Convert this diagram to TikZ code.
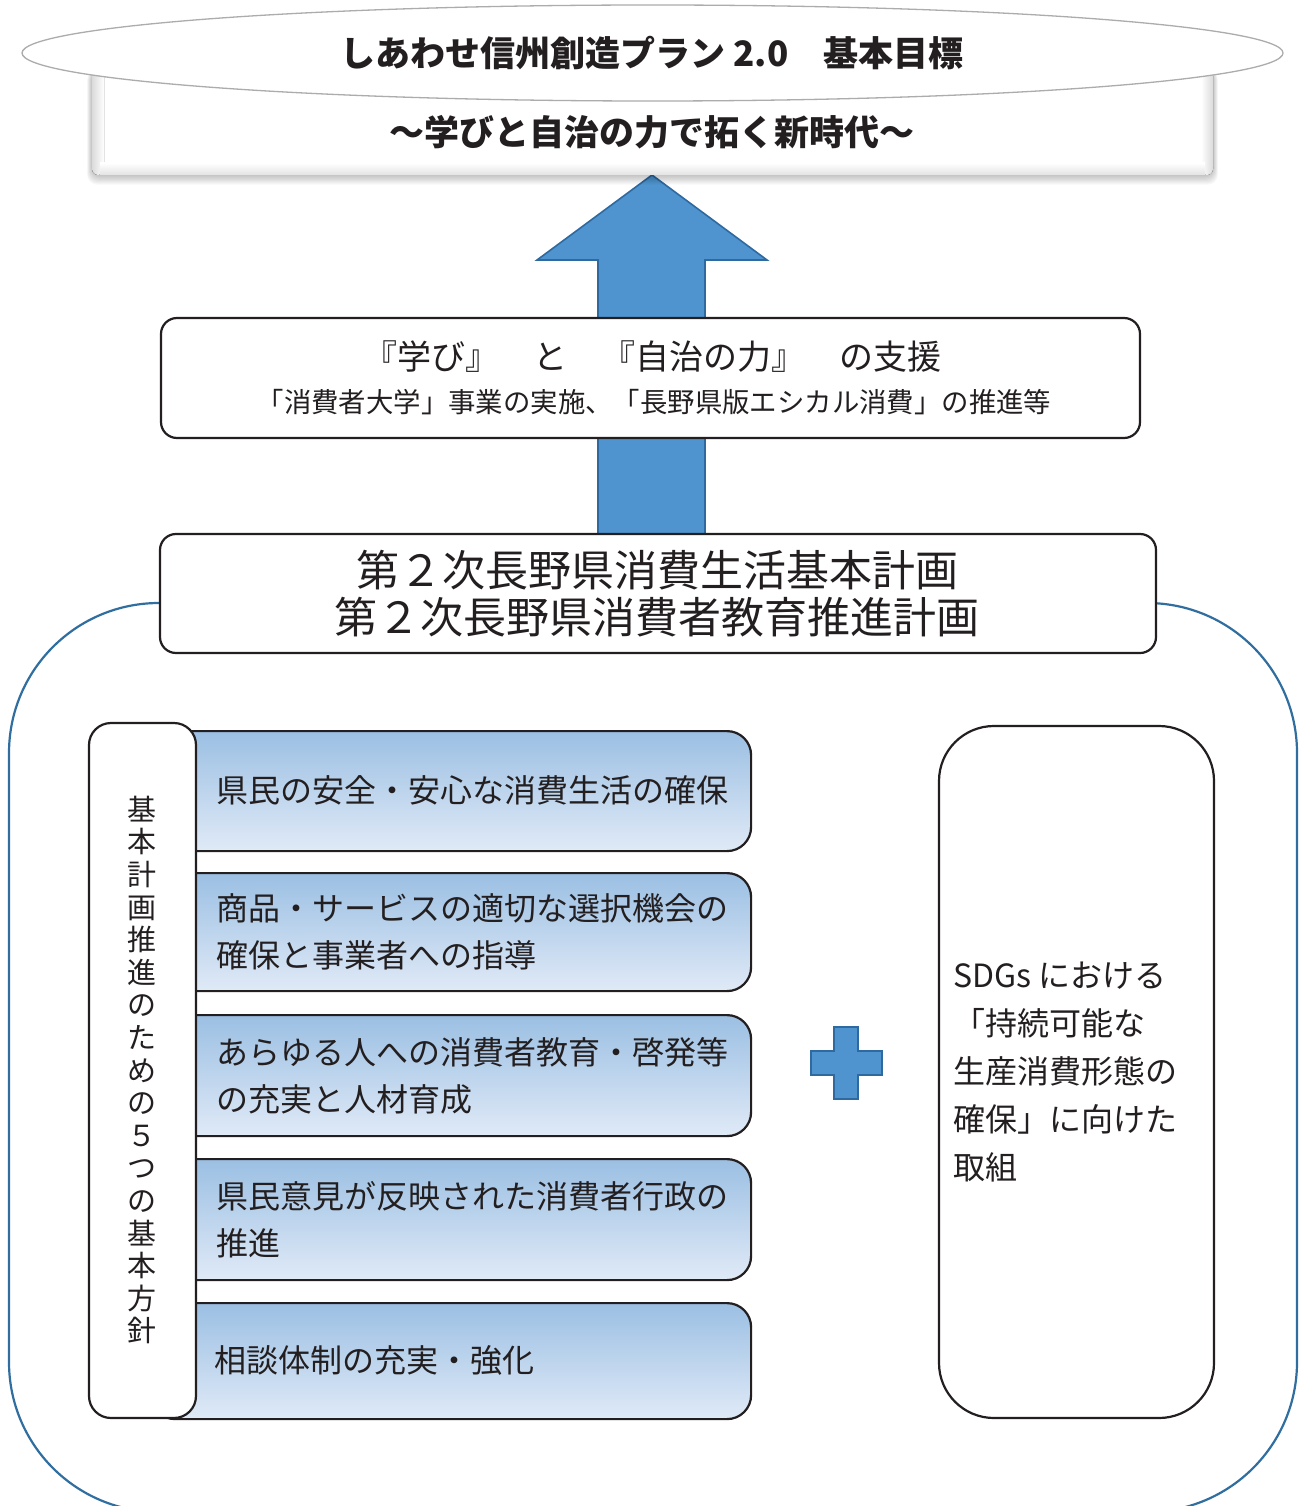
\documentclass[tikz,border=0pt]{standalone}
\usepackage{fontspec}
\setmainfont{Noto Sans CJK JP}
\usetikzlibrary{shapes.geometric}
\definecolor{arrowblue}{RGB}{79,148,207}
\definecolor{arrowedge}{RGB}{46,105,160}
\definecolor{frameblue}{RGB}{48,110,160}
\definecolor{boxtop}{RGB}{155,191,227}
\definecolor{boxbot}{RGB}{224,234,247}
\definecolor{ink}{RGB}{35,31,32}
\begin{document}
\begin{tikzpicture}[x=1pt,y=-1pt,
  wbox/.style={draw=ink, line width=2.2pt, fill=white, rounded corners=16pt, inner sep=0pt},
  bluebox/.style={draw=ink, line width=2.2pt, top color=boxtop, bottom color=boxbot, rounded corners=24pt, inner sep=0pt, anchor=north west, minimum width=600pt},
  ptxt/.style={text=ink, anchor=west, align=left, inner sep=0pt, font=\fontsize{32}{47}\selectfont},
  bluefill/.style={fill=arrowblue, draw=arrowedge, line width=1.6pt, line join=miter}
]
\useasboundingbox (0,0) rectangle (1302,1506);

% outer frame
\begin{scope}
\clip (0,0) rectangle (1302,1506);
\node[draw=frameblue, line width=2.2pt, rounded corners=150pt, minimum width=1288pt, minimum height=909pt, inner sep=0pt] (frame) at (653,1057.5) {};
\end{scope}

% big arrow
\draw[bluefill] (652,175) -- (767,260) -- (705,260) -- (705,540) -- (598,540) -- (598,260) -- (537,260) -- cycle;

% goal rectangle with soft shadow
\foreach \s in {1,2,...,8}
  \fill[black, opacity=0.03, rounded corners=10pt] (92-\s*0.6,70) rectangle (1213+\s*0.6,175+\s*1.2);
\node[fill=white, rounded corners=8pt, minimum width=1121pt, minimum height=105pt, inner sep=0pt] (goal) at (652.5,122.5) {};
\fill[left color=gray!28, right color=white, rounded corners=6pt] (92,70) rectangle (104,175);
\fill[right color=gray!28, left color=white, rounded corners=6pt] (1201,70) rectangle (1213,175);
\fill[top color=white, bottom color=gray!22] (100,163) rectangle (1205,175);
\node[text=ink, font=\fontsize{35}{38}\selectfont\bfseries] (subtitle) at (652,132) {～学びと自治の力で拓く新時代～};

% ellipse
\node[ellipse, draw=gray!65, line width=1.3pt, fill=white, minimum width=1261pt, minimum height=96pt, inner sep=0pt] (ell) at (652.5,53) {};
\node[text=ink, font=\fontsize{35}{38}\selectfont\bfseries] (title) at (652,53) {しあわせ信州創造プラン 2.0　基本目標};

% support box
\node[wbox, minimum width=979pt, minimum height=120pt] (supp) at (650.5,378) {};
\node[text=ink, inner sep=0pt, font=\fontsize{34}{38}\selectfont] (supp1) at (652,357) {『学び』　と　『自治の力』　の支援};
\node[text=ink, inner sep=0pt, font=\fontsize{27.4}{30}\selectfont] (supp2) at (654,402) {「消費者大学」事業の実施、「長野県版エシカル消費」の推進等};

% plan box
\node[wbox, minimum width=996pt, minimum height=119pt] (plan) at (658,593.5) {};
\node[text=ink, inner sep=0pt, align=center, font=\fontsize{43}{47}\selectfont] (plantxt) at (657,593.5) {第２次長野県消費生活基本計画\\第２次長野県消費者教育推進計画};

% five policy boxes
\node[bluebox, minimum height=120pt] (p1) at (150,730) {};
\node[bluebox, minimum height=118pt] (p2) at (150,872) {};
\node[bluebox, minimum height=121pt] (p3) at (150,1014) {};
\node[bluebox, minimum height=121pt] (p4) at (150,1158) {};
\node[bluebox, minimum height=116pt] (p5) at (150,1302) {};
\node[ptxt] (t1) at (216,790) {県民の安全・安心な消費生活の確保};
\node[ptxt] (t2) at (216,931.5) {商品・サービスの適切な選択機会の\\確保と事業者への指導};
\node[ptxt] (t3) at (216,1075.5) {あらゆる人への消費者教育・啓発等\\の充実と人材育成};
\node[ptxt] (t4) at (216,1219.5) {県民意見が反映された消費者行政の\\推進};
\node[ptxt] (t5) at (214,1360) {相談体制の充実・強化};

% vertical box
\node[draw=ink, line width=2.2pt, fill=white, rounded corners=22pt, minimum width=107pt, minimum height=695pt, inner sep=0pt] (vbox) at (142.5,1070.5) {};
\node[text=ink, inner sep=0pt, align=center, font=\fontsize{29}{32.6}\selectfont] (vtxt) at (142,1070) {基\\本\\計\\画\\推\\進\\の\\た\\め\\の\\５\\つ\\の\\基\\本\\方\\針};

% plus sign
\draw[bluefill, line width=2pt] (834,1027) -- (858,1027) -- (858,1051) -- (882,1051) -- (882,1075) -- (858,1075) -- (858,1099) -- (834,1099) -- (834,1075) -- (811,1075) -- (811,1051) -- (834,1051) -- cycle;

% SDGs box
\node[draw=ink, line width=2.2pt, fill=white, rounded corners=55pt, minimum width=275pt, minimum height=692pt, inner sep=0pt] (sdg) at (1076.5,1072) {};
\node[ptxt, font=\fontsize{32}{48}\selectfont] (sdgtxt) at (953,1072.5) {SDGs における\\「持続可能な\\生産消費形態の\\確保」に向けた\\取組};
\end{tikzpicture}
\end{document}
